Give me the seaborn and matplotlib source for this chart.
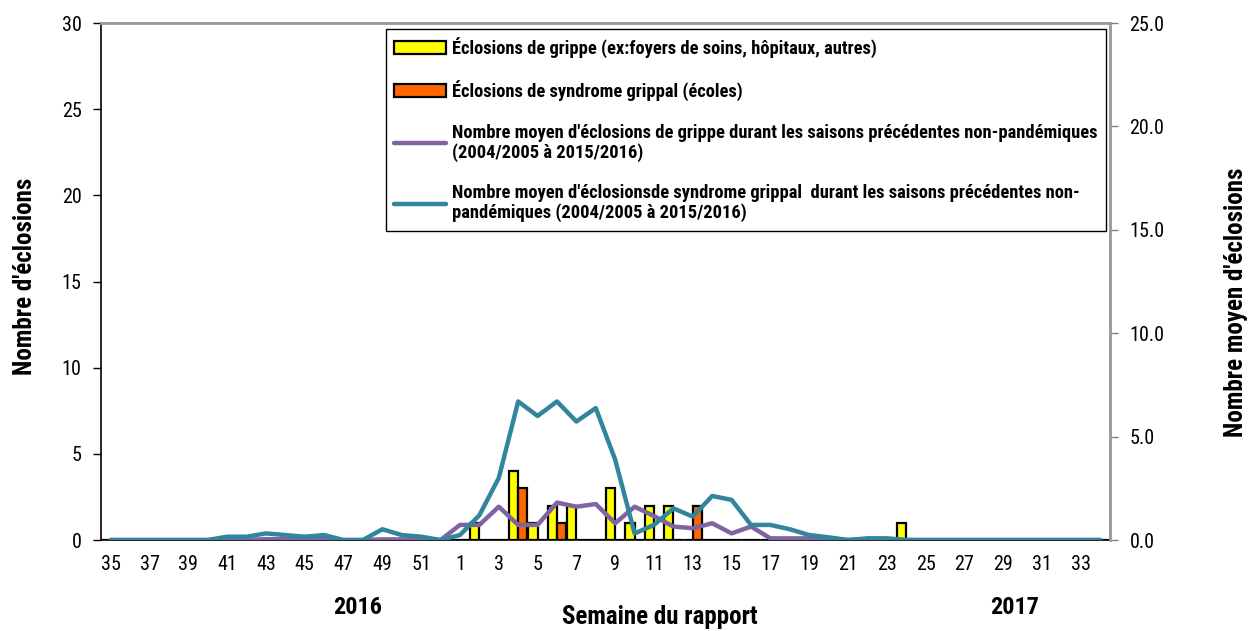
import pandas as pd
from matplotlib import pyplot as plt
from matplotlib.patches import Patch
from matplotlib.lines import Line2D
import seaborn as sns
import numpy as np

# semaines du rapport: 35-52 (2016) puis 1-34 (2017)
weeks = list(range(35, 53)) + list(range(1, 35))
week_labels = [str(w) for w in weeks]

# éclosions observées (axe de gauche)
grippe = [0]*18 + [0, 1, 0, 4, 1, 2, 2, 0, 3, 1, 2, 2, 0, 0, 0, 0, 0, 0, 0, 0, 0, 0, 0, 1,
                   0, 0, 0, 0, 0, 0, 0, 0, 0, 0]
syndrome = [0]*18 + [0, 0, 0, 3, 0, 1, 0, 0, 0, 0, 0, 0, 2, 0, 0, 0, 0, 0, 0, 0, 0, 0, 0, 0,
                     0, 0, 0, 0, 0, 0, 0, 0, 0, 0]

# moyennes des saisons précédentes (axe de droite)
moy_grippe = [0, 0, 0, 0, 0, 0, 0, 0, 0.04, 0.04, 0.04, 0.04, 0, 0, 0.03, 0.03, 0.02, 0,
              0.73, 0.73, 1.61, 0.73, 0.73, 1.81, 1.61, 1.74, 0.81, 1.61, 1.16, 0.65, 0.57, 0.81,
              0.32, 0.65, 0.08, 0.08, 0.08, 0.05, 0, 0.05, 0.05, 0, 0, 0, 0, 0, 0, 0, 0, 0, 0, 0]
moy_syndrome = [0, 0, 0, 0, 0, 0, 0.16, 0.16, 0.32, 0.24, 0.16, 0.24, 0, 0, 0.52, 0.24, 0.16, 0,
                0.24, 1.2, 3.0, 6.7, 6.0, 6.7, 5.73, 6.38, 3.88, 0.32, 0.73, 1.53, 1.13, 2.13,
                1.94, 0.73, 0.73, 0.52, 0.24, 0.13, 0, 0.08, 0.08, 0, 0, 0, 0, 0, 0, 0, 0, 0, 0, 0]

lab_grippe = 'Éclosions de grippe (ex:foyers de soins, hôpitaux, autres)'
lab_synd = 'Éclosions de syndrome grippal (écoles)'
lab_moy_grippe = ("Nombre moyen d'éclosions de grippe durant les saisons précédentes non-pandémiques\n"
                  "(2004/2005 à 2015/2016)")
lab_moy_synd = ("Nombre moyen d'éclosionsde syndrome grippal  durant les saisons précédentes non-\n"
                "pandémiques (2004/2005 à 2015/2016)")

yellow = '#FFFF00'
orange = '#FF6600'
purple = '#8064A2'
teal = '#31859C'

df = pd.DataFrame({'Semaine': week_labels * 2,
                   'Type': [lab_grippe]*len(weeks) + [lab_synd]*len(weeks),
                   'n': grippe + syndrome})

sns.set_style("white")
plt.rcParams['font.family'] = ['Roboto Condensed', 'Liberation Sans', 'DejaVu Sans']
plt.rcParams['text.color'] = 'black'
plt.rcParams['axes.labelcolor'] = 'black'
plt.rcParams['xtick.color'] = 'black'
plt.rcParams['ytick.color'] = 'black'

fig = plt.figure(figsize=(12.5, 6.31), dpi=100)
ax = fig.add_axes([0.0808, 0.1442, 0.8072, 0.8193])

sns.barplot(data=df, x='Semaine', y='n', hue='Type', order=week_labels,
            hue_order=[lab_grippe, lab_synd], palette={lab_grippe: yellow, lab_synd: orange},
            saturation=1, width=0.96, edgecolor='black', linewidth=1.6, legend=False, ax=ax)

ax2 = ax.twinx()
pos = np.arange(len(weeks))
sns.lineplot(x=pos, y=moy_grippe, color=purple, linewidth=3.2, ax=ax2)
sns.lineplot(x=pos, y=moy_syndrome, color=teal, linewidth=3.2, ax=ax2)

ax.set_xlim(-0.5, len(weeks) - 0.5)
ax.set_ylim(0, 30)
ax.set_yticks(range(0, 31, 5))
ax2.set_ylim(0, 25)
ax2.set_yticks(np.arange(0, 26, 5))
ax2.set_yticklabels(['%.1f' % v for v in np.arange(0, 26, 5)])

ax.set_xticks(pos[::2], labels=week_labels[::2])
ax.set_xticks(np.arange(-0.5, len(weeks), 1), minor=True)
ax.tick_params(axis='x', which='major', length=0, labelsize=14.5, pad=11)
ax.tick_params(axis='x', which='minor', length=5, width=1, color='black', direction='out')
ax.tick_params(axis='y', length=6, width=1, color='black', direction='out', left=True,
               labelsize=14.5, pad=8)
ax2.tick_params(axis='y', length=6, width=1, color='#808080', direction='out', right=True,
                labelsize=14.5, pad=8, labelcolor='black')

for s in ['left', 'bottom']:
    ax.spines[s].set_color('black')
    ax.spines[s].set_linewidth(1.2)
ax2.spines['left'].set_visible(False)
ax2.spines['bottom'].set_visible(False)
ax2.spines['right'].set_color('#999999')
ax2.spines['right'].set_linewidth(2)
ax2.spines['top'].set_color('#999999')
ax2.spines['top'].set_linewidth(2)

ax.set_xlabel('Semaine du rapport', fontsize=18, fontweight='bold')
ax.xaxis.set_label_coords(0.554, -0.149)
ax.xaxis.label.set_va('center')
ax.set_ylabel("Nombre d'éclosions", fontsize=18, fontweight='bold')
ax.yaxis.set_label_coords(-0.075, 0.51)
ax.yaxis.label.set_va('center')
ax2.set_ylabel("Nombre moyen d'éclosions", fontsize=18, fontweight='bold', rotation=90)
ax2.yaxis.set_label_coords(1.125, 0.46)
ax2.yaxis.label.set_va('center')

fig.text(358/1250, 1 - 607/631, '2016', fontsize=17.5, fontweight='bold', ha='center', va='center')
fig.text(1015/1250, 1 - 607/631, '2017', fontsize=17.5, fontweight='bold', ha='center', va='center')

handles = [Patch(facecolor=yellow, edgecolor='black', linewidth=1.6),
           Patch(facecolor=orange, edgecolor='black', linewidth=1.6),
           Line2D([], [], color=purple, linewidth=3.2),
           Line2D([], [], color=teal, linewidth=3.2)]
leg = fig.legend(handles, [lab_grippe, lab_synd, lab_moy_grippe, lab_moy_synd],
                 loc='upper left', bbox_to_anchor=(386/1250, 1 - 29/631), borderaxespad=0,
                 prop={'size': 13.3, 'weight': 'bold'}, handlelength=2.8, handletextpad=0.33,
                 labelspacing=1.2, borderpad=0.45, fancybox=False, framealpha=1,
                 edgecolor='black')
leg.get_frame().set_linewidth(1)
for t in leg.get_texts():
    t.set_linespacing(1.1)

plt.savefig('out.png', dpi=100)
